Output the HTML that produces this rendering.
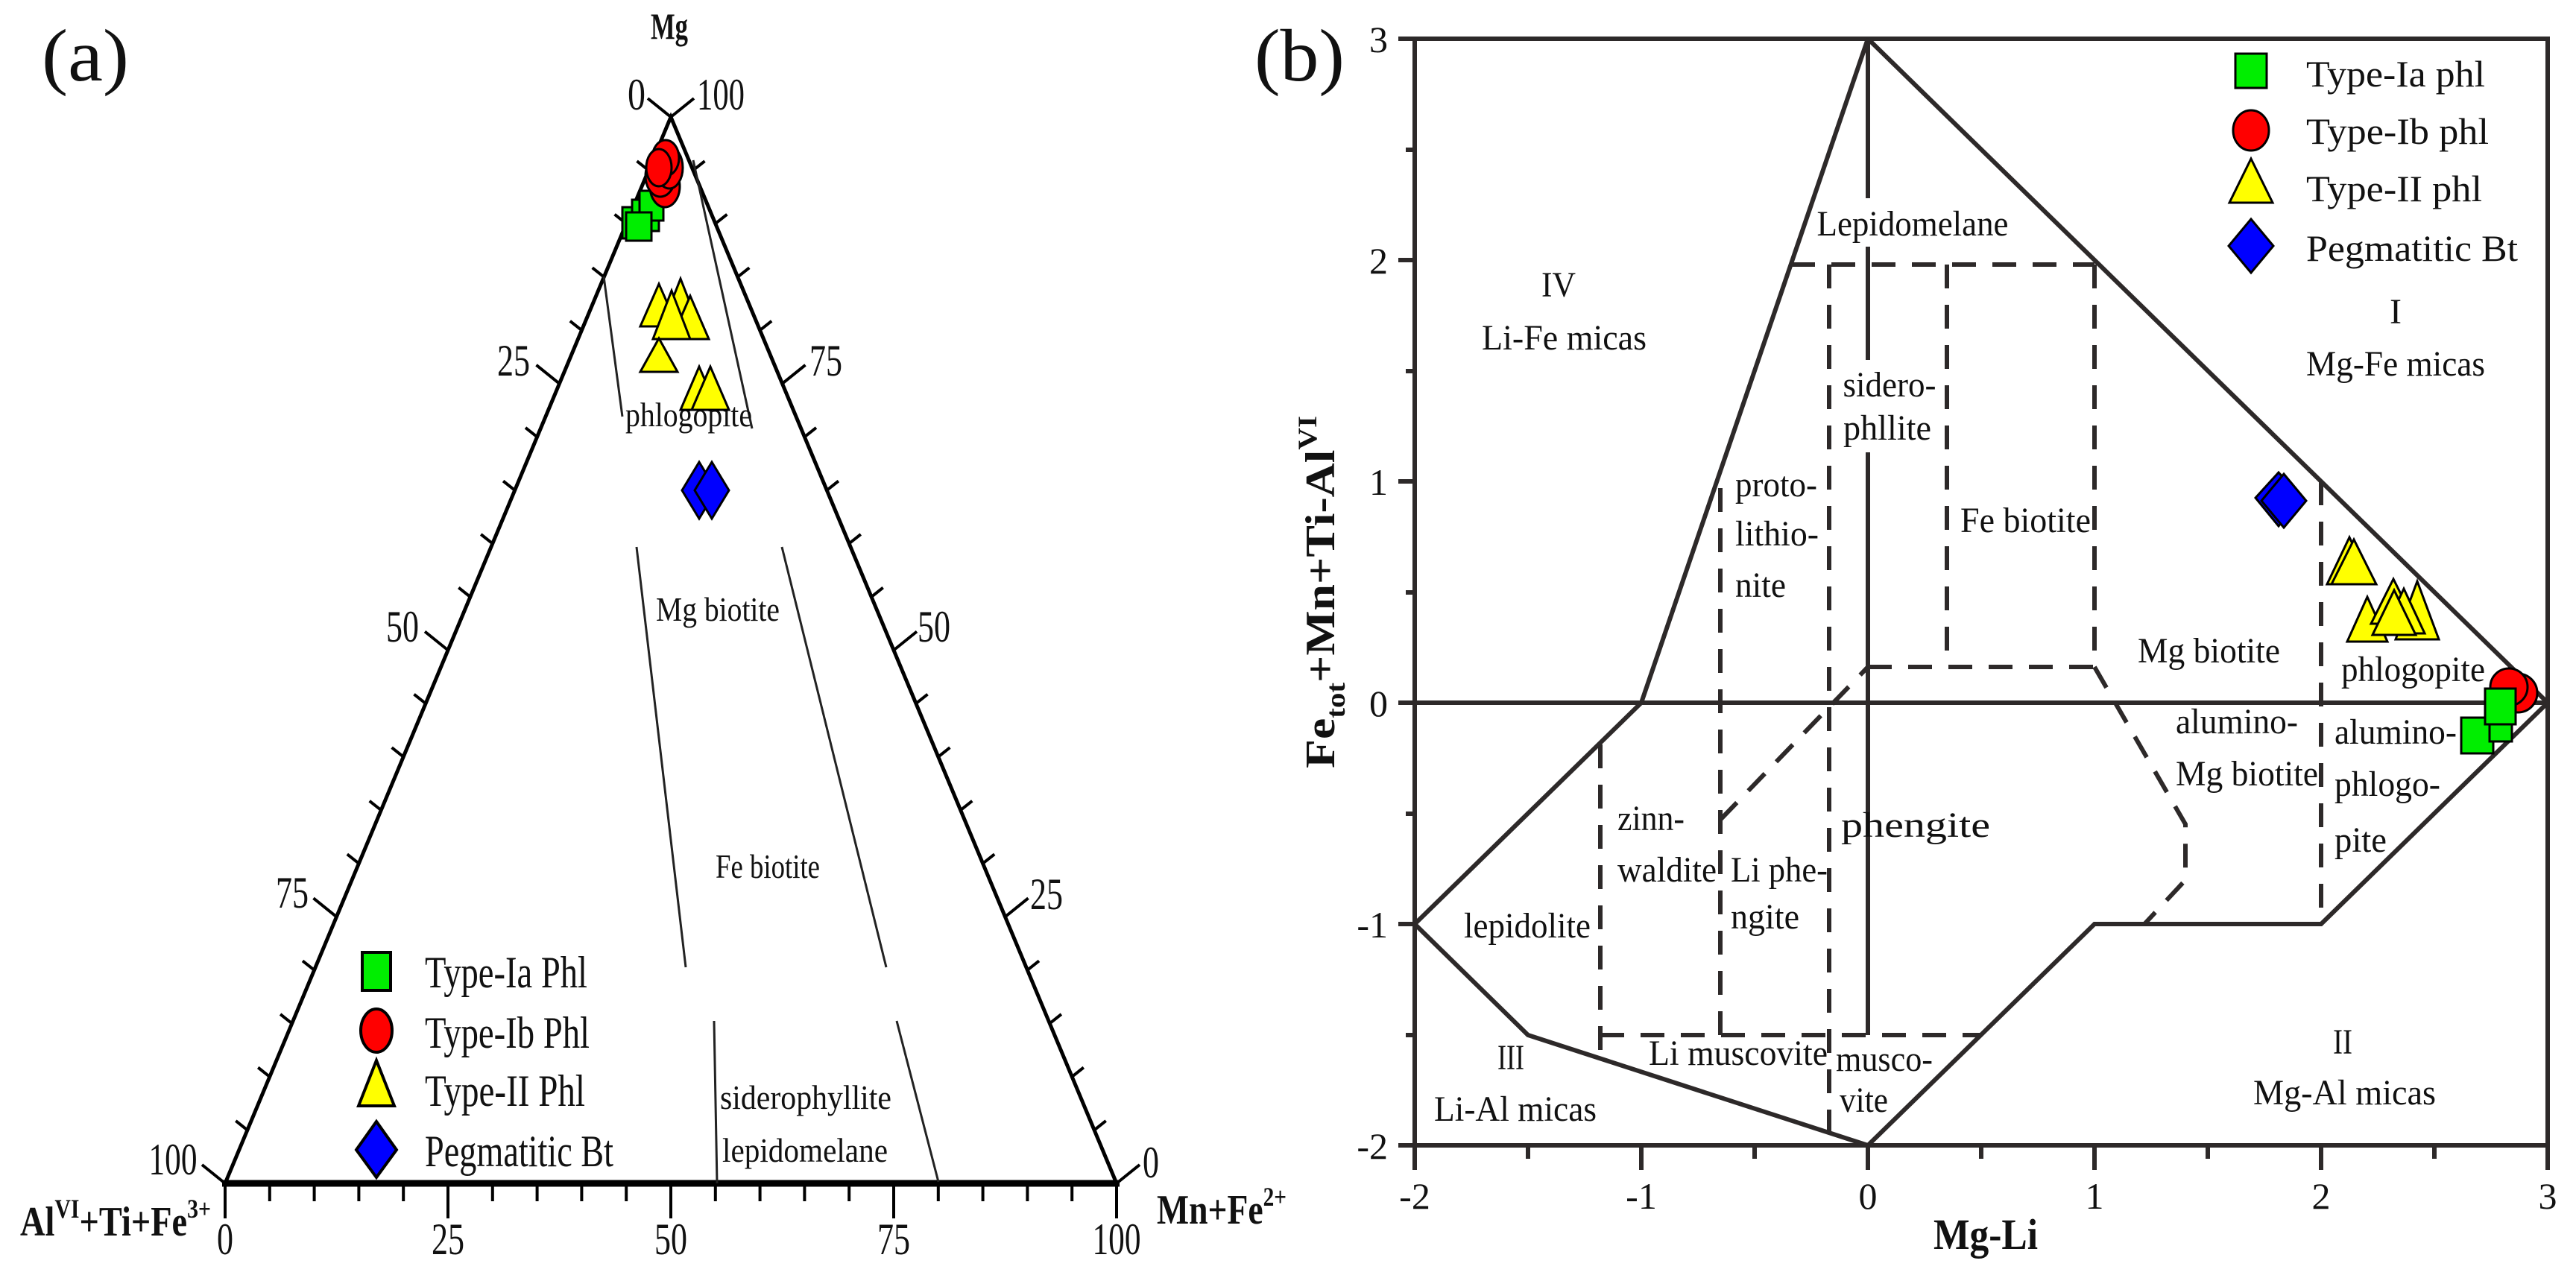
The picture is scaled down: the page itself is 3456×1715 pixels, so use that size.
<!DOCTYPE html>
<html><head><meta charset="utf-8"><style>
html,body{margin:0;padding:0;background:#fff;}
svg{display:block;}
text{font-family:"Liberation Serif",serif;fill:#111;}
.b{font-weight:bold;}
</style></head><body>
<svg width="3456" height="1715" viewBox="0 0 3456 1715" xmlns="http://www.w3.org/2000/svg">
<rect width="3456" height="1715" fill="#fff"/>

<!-- ================= PANEL A ================= -->
<text x="56" y="108" font-size="100" textLength="117" lengthAdjust="spacingAndGlyphs">(a)</text>
<text x="898" y="52" font-size="50" class="b" text-anchor="middle" textLength="50" lengthAdjust="spacingAndGlyphs">Mg</text>

<path d="M302,1588 L900,157 L1498,1588" fill="none" stroke="#000" stroke-width="5"/>
<path d="M298,1588 H1502" stroke="#000" stroke-width="9"/>

<path fill="none" stroke="#000" stroke-width="4" d="
M900,157 l-31,-25 M870.1,228.6 l-15.6,-12.4 M840.2,300.1 l-15.6,-12.4 M810.3,371.7 l-15.6,-12.4 M780.4,443.2 l-15.6,-12.4
M750.5,514.8 l-31,-25 M720.6,586.3 l-15.6,-12.4 M690.7,657.9 l-15.6,-12.4 M660.8,729.4 l-15.6,-12.4 M630.9,801 l-15.6,-12.4
M601,872.5 l-31,-25 M571.1,944.1 l-15.6,-12.4 M541.2,1015.6 l-15.6,-12.4 M511.3,1087.2 l-15.6,-12.4 M481.4,1158.7 l-15.6,-12.4
M451.5,1230.3 l-31,-25 M421.6,1301.8 l-15.6,-12.4 M391.7,1373.4 l-15.6,-12.4 M361.8,1444.9 l-15.6,-12.4 M331.9,1516.5 l-15.6,-12.4
M302,1588 l-31,-25"/>
<path fill="none" stroke="#000" stroke-width="4" d="
M900,157 l31,-25 M929.9,228.6 l15.6,-12.4 M959.8,300.1 l15.6,-12.4 M989.7,371.7 l15.6,-12.4 M1019.6,443.2 l15.6,-12.4
M1049.5,514.8 l31,-25 M1079.4,586.3 l15.6,-12.4 M1109.3,657.9 l15.6,-12.4 M1139.2,729.4 l15.6,-12.4 M1169.1,801 l15.6,-12.4
M1199,872.5 l31,-25 M1228.9,944.1 l15.6,-12.4 M1258.8,1015.6 l15.6,-12.4 M1288.7,1087.2 l15.6,-12.4 M1318.6,1158.7 l15.6,-12.4
M1348.5,1230.3 l31,-25 M1378.4,1301.8 l15.6,-12.4 M1408.3,1373.4 l15.6,-12.4 M1438.2,1444.9 l15.6,-12.4 M1468.1,1516.5 l15.6,-12.4
M1498,1588 l31,-25"/>
<path fill="none" stroke="#000" stroke-width="4" d="
M302,1588 v47 M361.8,1588 v24 M421.6,1588 v24 M481.4,1588 v24 M541.2,1588 v24
M601,1588 v47 M660.8,1588 v24 M720.6,1588 v24 M780.4,1588 v24 M840.2,1588 v24
M900,1588 v47 M959.8,1588 v24 M1019.6,1588 v24 M1079.4,1588 v24 M1139.2,1588 v24
M1199,1588 v47 M1258.8,1588 v24 M1318.6,1588 v24 M1378.4,1588 v24 M1438.2,1588 v24
M1498,1588 v47"/>

<g font-size="60">
<text x="854" y="147" text-anchor="middle" textLength="24" lengthAdjust="spacingAndGlyphs">0</text>
<text x="967" y="147" text-anchor="middle" textLength="64" lengthAdjust="spacingAndGlyphs">100</text>
<text x="689" y="504" text-anchor="middle" textLength="44" lengthAdjust="spacingAndGlyphs">25</text>
<text x="540" y="861" text-anchor="middle" textLength="44" lengthAdjust="spacingAndGlyphs">50</text>
<text x="392" y="1218" text-anchor="middle" textLength="44" lengthAdjust="spacingAndGlyphs">75</text>
<text x="232" y="1576" text-anchor="middle" textLength="65" lengthAdjust="spacingAndGlyphs">100</text>
<text x="1108" y="504" text-anchor="middle" textLength="44" lengthAdjust="spacingAndGlyphs">75</text>
<text x="1253" y="861" text-anchor="middle" textLength="44" lengthAdjust="spacingAndGlyphs">50</text>
<text x="1404" y="1220" text-anchor="middle" textLength="44" lengthAdjust="spacingAndGlyphs">25</text>
<text x="1544" y="1580" text-anchor="middle" textLength="22" lengthAdjust="spacingAndGlyphs">0</text>
<text x="302" y="1683" text-anchor="middle" textLength="22" lengthAdjust="spacingAndGlyphs">0</text>
<text x="601" y="1683" text-anchor="middle" textLength="44" lengthAdjust="spacingAndGlyphs">25</text>
<text x="900" y="1683" text-anchor="middle" textLength="44" lengthAdjust="spacingAndGlyphs">50</text>
<text x="1199" y="1683" text-anchor="middle" textLength="44" lengthAdjust="spacingAndGlyphs">75</text>
<text x="1498" y="1683" text-anchor="middle" textLength="65" lengthAdjust="spacingAndGlyphs">100</text>
</g>
<text x="27" y="1658" font-size="56" class="b" textLength="256" lengthAdjust="spacingAndGlyphs">Al<tspan font-size="36" dy="-24">VI</tspan><tspan dy="24">+Ti+Fe</tspan><tspan font-size="36" dy="-24">3+</tspan></text>
<text x="1552" y="1642" font-size="56" class="b" textLength="174" lengthAdjust="spacingAndGlyphs">Mn+Fe<tspan font-size="36" dy="-24">2+</tspan></text>

<g stroke="#222" stroke-width="3" fill="none">
<path d="M810,371 L835,559"/>
<path d="M930,215 L1009,575"/>
<path d="M854,734 L920,1298"/>
<path d="M1049,734 L1189,1298"/>
<path d="M958,1370 L962,1588"/>
<path d="M1203,1370 L1259,1586"/>
</g>
<g font-size="46">
<text x="924" y="572" text-anchor="middle" textLength="170" lengthAdjust="spacingAndGlyphs">phlogopite</text>
<text x="963" y="833" text-anchor="middle" textLength="166" lengthAdjust="spacingAndGlyphs">Mg biotite</text>
<text x="1030" y="1178" text-anchor="middle" textLength="140" lengthAdjust="spacingAndGlyphs">Fe biotite</text>
<text x="1081" y="1488" text-anchor="middle" textLength="230" lengthAdjust="spacingAndGlyphs">siderophyllite</text>
<text x="1080" y="1559" text-anchor="middle" textLength="222" lengthAdjust="spacingAndGlyphs">lepidomelane</text>
</g>

<g stroke="#000" stroke-width="3">
<rect x="835" y="278" width="36" height="42" fill="#00ee00"/>
<rect x="848" y="268" width="36" height="42" fill="#00ee00"/>
<rect x="858" y="256" width="32" height="40" fill="#00ee00"/>
<rect x="840" y="285" width="34" height="38" fill="#00ee00"/>
<ellipse cx="892" cy="250" rx="20" ry="28" fill="#f00"/>
<ellipse cx="886" cy="236" rx="20" ry="28" fill="#f00"/>
<ellipse cx="898" cy="225" rx="18" ry="28" fill="#f00"/>
<ellipse cx="893" cy="212" rx="18" ry="24" fill="#f00"/>
<ellipse cx="884" cy="225" rx="17" ry="25" fill="#f00"/>
<polygon points="884,381 859,438 909,438" fill="#ff0"/>
<polygon points="913,374 888,438 938,438" fill="#ff0"/>
<polygon points="926,397 901,455 951,455" fill="#ff0"/>
<polygon points="901,390 876,455 926,455" fill="#ff0"/>
<polygon points="884,454 859,499 909,499" fill="#ff0"/>
<polygon points="938,492 913,550 963,550" fill="#ff0"/>
<polygon points="953,492 928,550 978,550" fill="#ff0"/>
<polygon points="938,620 961,658 938,696 915,658" fill="#00f"/>
<polygon points="955,620 978,658 955,696 932,658" fill="#00f"/>
</g>

<g stroke="#000" stroke-width="4">
<rect x="486" y="1278" width="38" height="51" fill="#00ee00"/>
<ellipse cx="505" cy="1383" rx="21" ry="29" fill="#f00"/>
<polygon points="505,1423 481,1484 529,1484" fill="#ff0"/>
<polygon points="505,1505 532,1543 505,1580 478,1543" fill="#00f"/>
</g>
<g font-size="60">
<text x="570" y="1325" textLength="218" lengthAdjust="spacingAndGlyphs">Type-Ia Phl</text>
<text x="570" y="1406" textLength="221" lengthAdjust="spacingAndGlyphs">Type-Ib Phl</text>
<text x="570" y="1484" textLength="215" lengthAdjust="spacingAndGlyphs">Type-II Phl</text>
<text x="570" y="1565" textLength="253" lengthAdjust="spacingAndGlyphs">Pegmatitic Bt</text>
</g>

<!-- ================= PANEL B ================= -->
<text x="1683" y="108" font-size="100" textLength="121" lengthAdjust="spacingAndGlyphs">(b)</text>

<g stroke="#2d2929" stroke-width="6" fill="none">
<rect x="1898" y="52" width="1520" height="1485"/>
<path d="M2506,52 L3418,943"/>
<path d="M2506,52 L2202,943 L1898,1240 L2050,1389 L2506,1537 L2810,1240 L3114,1240 L3418,943"/>
<path d="M1898,943 H3418"/>
<path d="M2506,52 V266 M2506,331 V483 M2506,607 V1389"/>
<path d="M1876,52 H1898 M1886,201 H1898 M1876,349 H1898 M1886,498 H1898 M1876,646 H1898 M1886,795 H1898 M1876,943 H1898 M1886,1092 H1898 M1876,1240 H1898 M1886,1389 H1898 M1876,1537 H1898"/>
<path d="M1898,1537 V1570 M2050,1537 V1555 M2202,1537 V1570 M2354,1537 V1555 M2506,1537 V1570 M2658,1537 V1555 M2810,1537 V1570 M2962,1537 V1555 M3114,1537 V1570 M3266,1537 V1555 M3418,1537 V1570"/>
</g>
<g stroke="#2d2929" stroke-width="6" fill="none" stroke-dasharray="32 22">
<path d="M2403,355 H2810"/>
<path d="M2454,355 V1519"/>
<path d="M2612,355 V895"/>
<path d="M2810,355 V895"/>
<path d="M2506,895 H2810"/>
<path d="M2810,895 L2932,1106 L2932,1181 L2877,1240"/>
<path d="M2308,1100 L2506,895"/>
<path d="M2308,655 V1389"/>
<path d="M2147,999 V1421"/>
<path d="M2147,1389 H2658"/>
<path d="M3114,646 V1240"/>
</g>

<g font-size="50" fill="#222">
<text x="1862" y="70" text-anchor="end">3</text>
<text x="1862" y="367" text-anchor="end">2</text>
<text x="1862" y="664" text-anchor="end">1</text>
<text x="1862" y="961" text-anchor="end">0</text>
<text x="1862" y="1258" text-anchor="end">-1</text>
<text x="1862" y="1555" text-anchor="end">-2</text>
<text x="1898" y="1622" text-anchor="middle">-2</text>
<text x="2202" y="1622" text-anchor="middle">-1</text>
<text x="2506" y="1622" text-anchor="middle">0</text>
<text x="2810" y="1622" text-anchor="middle">1</text>
<text x="3114" y="1622" text-anchor="middle">2</text>
<text x="3418" y="1622" text-anchor="middle">3</text>
</g>
<text x="2664" y="1676" font-size="58" class="b" text-anchor="middle" textLength="140" lengthAdjust="spacingAndGlyphs">Mg-Li</text>
<text transform="translate(1790,1031) rotate(-90)" font-size="56" class="b" textLength="473" lengthAdjust="spacingAndGlyphs">Fe<tspan font-size="36" dy="14">tot</tspan><tspan dy="-14">+Mn+Ti-Al</tspan><tspan font-size="36" dy="-24">VI</tspan></text>

<g font-size="48" fill="#222">
<text x="2566" y="316" text-anchor="middle" textLength="257" lengthAdjust="spacingAndGlyphs">Lepidomelane</text>
<text x="2091" y="398" text-anchor="middle" textLength="46" lengthAdjust="spacingAndGlyphs">IV</text>
<text x="1988" y="469" textLength="221" lengthAdjust="spacingAndGlyphs">Li-Fe micas</text>
<text x="2535" y="532" text-anchor="middle" textLength="125" lengthAdjust="spacingAndGlyphs">sidero-</text>
<text x="2532" y="590" text-anchor="middle" textLength="118" lengthAdjust="spacingAndGlyphs">phllite</text>
<text x="2328" y="666" textLength="110" lengthAdjust="spacingAndGlyphs">proto-</text>
<text x="2328" y="732" textLength="112" lengthAdjust="spacingAndGlyphs">lithio-</text>
<text x="2328" y="801" textLength="68" lengthAdjust="spacingAndGlyphs">nite</text>
<text x="2630" y="714" textLength="175" lengthAdjust="spacingAndGlyphs">Fe biotite</text>
<text x="2868" y="889" textLength="191" lengthAdjust="spacingAndGlyphs">Mg biotite</text>
<text x="3141" y="914" textLength="193" lengthAdjust="spacingAndGlyphs">phlogopite</text>
<text x="2919" y="984" textLength="164" lengthAdjust="spacingAndGlyphs">alumino-</text>
<text x="2919" y="1054" textLength="191" lengthAdjust="spacingAndGlyphs">Mg biotite</text>
<text x="3132" y="998" textLength="164" lengthAdjust="spacingAndGlyphs">alumino-</text>
<text x="3132" y="1068" textLength="142" lengthAdjust="spacingAndGlyphs">phlogo-</text>
<text x="3132" y="1143" textLength="70" lengthAdjust="spacingAndGlyphs">pite</text>
<text x="3214" y="434" text-anchor="middle">I</text>
<text x="3094" y="504" textLength="240" lengthAdjust="spacingAndGlyphs">Mg-Fe micas</text>
<text x="2470" y="1123" textLength="200" lengthAdjust="spacingAndGlyphs">phengite</text>
<text x="2170" y="1114" textLength="90" lengthAdjust="spacingAndGlyphs">zinn-</text>
<text x="2170" y="1183" textLength="133" lengthAdjust="spacingAndGlyphs">waldite</text>
<text x="2322" y="1183" textLength="130" lengthAdjust="spacingAndGlyphs">Li phe-</text>
<text x="2322" y="1246" textLength="92" lengthAdjust="spacingAndGlyphs">ngite</text>
<text x="1964" y="1258" textLength="170" lengthAdjust="spacingAndGlyphs">lepidolite</text>
<text x="2027" y="1435" text-anchor="middle" textLength="36" lengthAdjust="spacingAndGlyphs">III</text>
<text x="1924" y="1504" textLength="218" lengthAdjust="spacingAndGlyphs">Li-Al micas</text>
<text x="2212" y="1429" textLength="240" lengthAdjust="spacingAndGlyphs">Li muscovite</text>
<text x="2463" y="1437" textLength="130" lengthAdjust="spacingAndGlyphs">musco-</text>
<text x="2468" y="1492" textLength="65" lengthAdjust="spacingAndGlyphs">vite</text>
<text x="3143" y="1414" text-anchor="middle" textLength="26" lengthAdjust="spacingAndGlyphs">II</text>
<text x="3023" y="1482" textLength="245" lengthAdjust="spacingAndGlyphs">Mg-Al micas</text>
</g>

<g stroke="#000" stroke-width="3">
<polygon points="3057,634 3088,668 3057,706 3026,668" fill="#00f"/>
<polygon points="3064,636 3094,672 3064,708 3034,672" fill="#00f"/>
<polygon points="3152,721 3122,784 3182,784" fill="#ff0"/>
<polygon points="3158,724 3128,784 3188,784" fill="#ff0"/>
<polygon points="3176,801 3149,861 3203,861" fill="#ff0"/>
<polygon points="3211,777 3181,837 3241,837" fill="#ff0"/>
<polygon points="3243,780 3214,858 3272,858" fill="#ff0"/>
<polygon points="3225,790 3197,850 3253,850" fill="#ff0"/>
<polygon points="3212,792 3183,852 3241,852" fill="#ff0"/>
<circle cx="3378" cy="930" r="26" fill="#f00"/>
<circle cx="3366" cy="922" r="25" fill="#f00"/>
<rect x="3302" y="963" width="43" height="48" fill="#00ee00"/>
<rect x="3340" y="955" width="30" height="40" fill="#00ee00"/>
<rect x="3334" y="924" width="41" height="48" fill="#00ee00"/>
</g>

<g stroke="#000" stroke-width="3">
<rect x="2999" y="72" width="42" height="46" fill="#00ee00"/>
<ellipse cx="3020" cy="175" rx="24" ry="27" fill="#f00"/>
<polygon points="3020,213 2991,272 3049,272" fill="#ff0"/>
<polygon points="3020,294 3050,330 3020,366 2990,330" fill="#00f"/>
</g>
<g font-size="50" fill="#222">
<text x="3094" y="116" textLength="240" lengthAdjust="spacingAndGlyphs">Type-Ia phl</text>
<text x="3094" y="193" textLength="245" lengthAdjust="spacingAndGlyphs">Type-Ib phl</text>
<text x="3094" y="270" textLength="236" lengthAdjust="spacingAndGlyphs">Type-II phl</text>
<text x="3094" y="350" textLength="284" lengthAdjust="spacingAndGlyphs">Pegmatitic Bt</text>
</g>
</svg>
</body></html>
